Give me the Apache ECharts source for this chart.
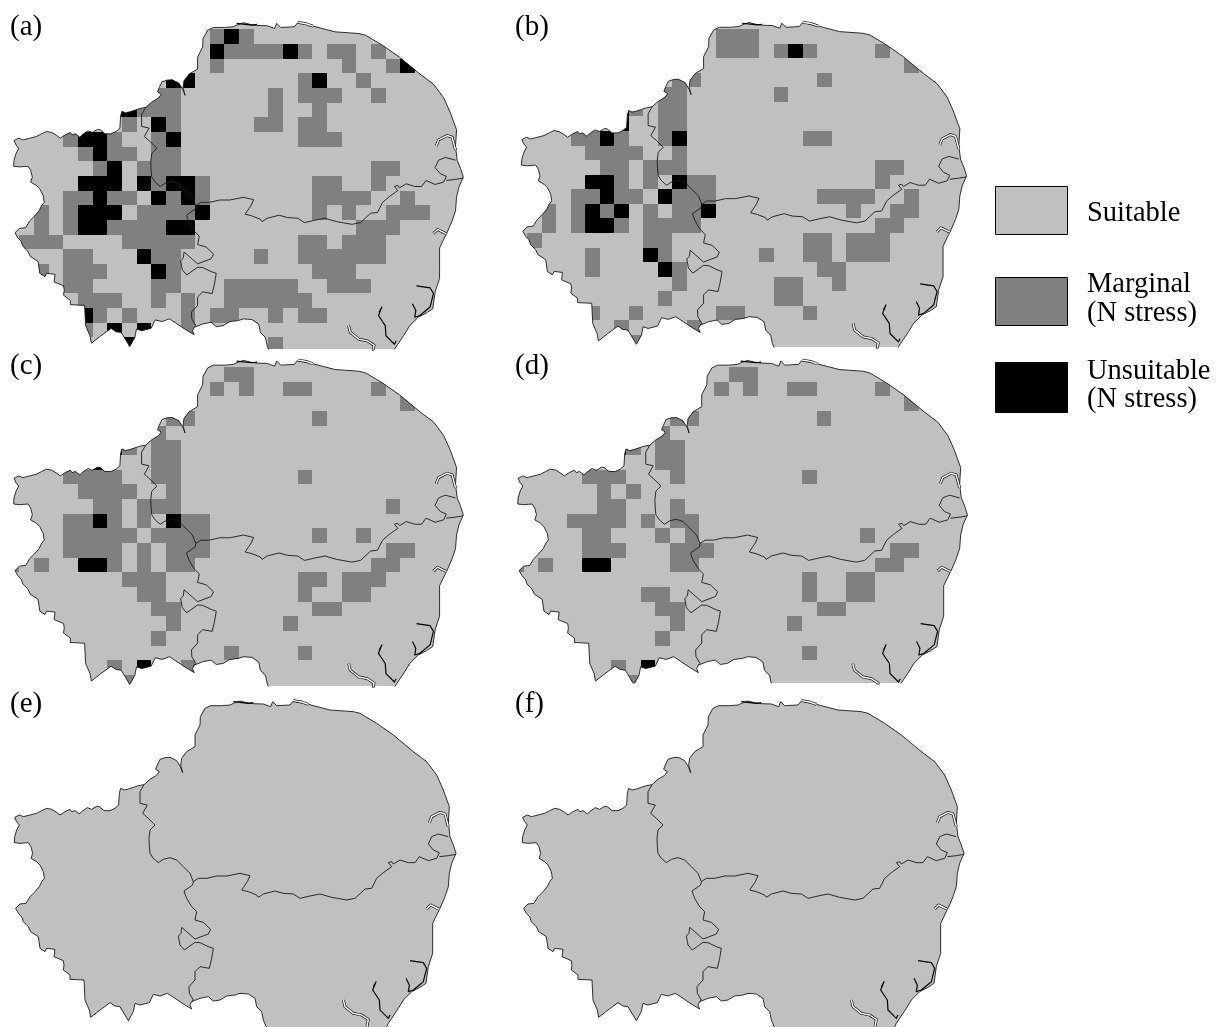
<!DOCTYPE html>
<html><head><meta charset="utf-8">
<style>html,body{margin:0;padding:0;background:#fff}#c{width:1216px;height:1027px}</style>
<script src="https://cdn.jsdelivr.net/npm/echarts@6/dist/echarts.min.js"></script>
</head><body><div id="c"></div>
<script>
// ---- legend and panel text
const panelLabels = ['(a)','(b)','(c)','(d)','(e)','(f)'];
const legendLabels = [['Suitable'],['Marginal','(N stress)'],['Unsuitable','(N stress)']];

// ---- grid cells: [row, marginal columns, unsuitable columns]
const cellsA = [
[2,[13,15],[14]],[3,[14,15,16,17,19,21,22,24],[13,18]],[4,[13,22,25],[26]],[5,[19,23],[10,11,20]],
[6,[9,10,17,19,20,21,24],[]],[7,[8,9,10,17,20],[6,7]],[8,[7,10,16,17,19,20],[9]],[9,[3,6,9,19,20,21],[4,5,10]],
[10,[4,6,7,9,10],[5]],[11,[5,8,9,10,24,25],[6]],[12,[9,12,20,21,24],[4,5,6,8,10,11]],
[13,[3,4,6,7,10,12,20,21,22,23,26],[5,9,11]],[14,[1,3,8,9,10,11,20,22,25,26,27],[4,5,6,12]],
[15,[1,3,6,7,8,9,23,24,25],[4,5,10,11]],[16,[0,1,2,7,8,9,10,11,19,20,22,23,24],[]],
[17,[3,4,9,10,16,19,20,21,22,23,24],[8]],[18,[1,3,4,5,10,20,21,22],[9]],[19,[3,4,9,10,14,15,16,17,18,21,22,23],[]],
[20,[4,5,6,9,11,14,15,16,17,18,19],[]],[21,[5,7,11,13,14,17,19,20],[4]],[22,[4,11],[6,8]],[23,[17],[7]]];
const cellsB = [
[2,[13,14,15],[]],[3,[13,14,15,17,19,24],[18]],[4,[26],[]],[5,[10,11,20],[]],[6,[9,10,17],[]],[7,[7,9,10],[6]],
[8,[9,10],[6]],[9,[3,4,6,9,19,20],[5,10]],[10,[4,5,6,7,10],[]],[11,[5,6,8,9,10,24,25],[]],[12,[6,8,11,12,24],[4,5,10]],
[13,[3,4,6,7,10,11,12,20,21,22,23,26],[5,9]],[14,[1,3,5,8,10,11,22,25,26],[4,6,12]],[15,[1,3,6,8,9,10,11,24,25],[4,5]],
[16,[0,8,9,19,20,22,23,24],[]],[17,[4,9,16,19,20,22,23,24],[8]],[18,[4,10,20,21],[9]],[19,[10,17,18,21],[]],
[20,[9,17,18],[]],[21,[4,7,13,14,19],[]],[22,[6,11],[]],[23,[7],[]]];
const cellsC = [
[2,[14,15],[]],[3,[13,15,18,19,24],[]],[4,[26],[]],[5,[10,11,20],[]],[6,[9],[]],[7,[7,9,10],[6]],[8,[9,10],[5]],
[9,[3,4,5,6,9,10,19],[]],[10,[4,5,6,7,10],[]],[11,[5,6,8,9,10,25],[]],[12,[3,4,6,8,11,12],[5,10]],
[13,[3,4,5,6,7,9,10,11,12,20,23],[]],[14,[3,4,5,6,8,10,11,12,25,26],[]],[15,[-1,1,6,8,10,11,24,25],[4,5]],
[16,[7,8,9,19,20,22,23,24],[]],[17,[8,9,19,22,23],[]],[18,[9,10,20,21],[]],[19,[10,18],[]],[20,[9],[]],
[21,[14,19],[]],[22,[6,11],[8]],[23,[7],[]]];
const cellsD = [
[2,[14,15],[]],[3,[13,15,18,19,24],[]],[4,[26],[]],[5,[10,11,20],[]],[6,[9],[]],[7,[7,9,10],[6]],[8,[9,10],[]],
[9,[4,5,6,10,19],[]],[10,[5,7],[]],[11,[5,6,10],[]],[12,[3,4,5,6,8,10,11],[]],[13,[4,5,9,11,23],[]],
[14,[4,5,6,10,11,12,25,26],[]],[15,[-1,1,10,11,24,25],[4,5]],[16,[19,22,23],[]],[17,[8,9,19,22,23],[]],
[18,[9,10,20,21],[]],[19,[10,18],[]],[20,[9],[]],[21,[19],[]],[22,[6],[8]],[23,[7],[]]];
const cellsE = [];
const cellsF = [];

// ---- map outline in map units
const coastNorth = [[432,284],[450,268],[470,256],[478,245],[467,238],[472,225],[480,208],[495,203],[510,202],[530,212],[542,232],[548,248],[542,225],[545,205],[560,185],[585,170],[585,135],[600,105],[601,80],[615,55],[632,47],[665,47],[690,45],[700,40],[720,33],[740,38],[760,41],[790,42],[812,50],[818,35],[830,47],[870,45],[880,33],[925,43],[990,60],[1060,65],[1080,70],[1130,100],[1180,135],[1240,185],[1280,215],[1310,255],[1330,300],[1348,350],[1345,400],[1350,440],[1360,465],[1368,490]];
const coastEast = [[1368,490],[1355,520],[1348,550],[1345,590],[1335,620],[1320,655],[1310,675],[1298,700],[1298,790],[1285,830],[1278,880],[1260,892],[1235,905],[1210,930],[1195,955],[1175,985],[1165,1000],[1155,1022]];
const coastSouth = [[803,1022],[790,990],[785,965],[770,950],[765,925],[745,912],[720,910],[705,915],[680,918],[660,930],[640,933],[625,920],[600,925],[575,935]];
const coastWest = [[575,957],[550,942],[525,925],[502,910],[480,918],[460,913],[448,938],[420,945],[405,940],[400,965],[385,992],[360,950],[345,948],[330,938],[300,960],[272,982],[268,960],[255,930],[252,870],[210,868],[210,855],[190,840],[192,825],[190,812],[162,800],[165,778],[140,775],[135,785],[120,775],[115,740],[92,725],[85,710],[70,695],[65,680],[55,670],[47,655],[60,642],[78,640],[90,620],[105,605],[118,590],[125,575],[133,565],[130,545],[120,525],[110,515],[93,505],[98,490],[93,470],[85,458],[60,460],[43,458],[44,440],[50,420],[58,405],[50,395],[44,382],[58,375],[70,380],[90,375],[110,370],[125,362],[140,355],[155,358],[170,367],[180,375],[195,365],[210,358],[215,365],[225,362],[238,372],[245,365],[262,353],[275,358],[290,349],[298,350],[312,362],[330,362],[345,355],[356,345],[358,310],[362,295],[372,300],[385,297],[400,292],[415,287],[432,284]];
const coastCorner = [[575,935],[570,945],[575,957]];
const borderNorthWest = [[432,284],[420,305],[420,340],[442,345],[428,370],[445,385],[465,405],[450,420],[447,445],[448,470],[450,490],[460,505],[475,518],[490,508],[510,503],[530,510],[550,530],[570,550],[580,575]];
const borderNorthSouth = [[580,575],[595,565],[620,565],[650,558],[680,558],[720,550],[750,557],[742,575],[725,600],[745,605],[770,615],[775,622],[790,612],[825,603],[850,610],[880,612],[900,625],[930,618],[960,612],[995,622],[1040,630],[1065,625],[1095,597],[1115,595],[1130,565],[1150,548],[1175,530],[1165,518],[1175,515],[1180,522],[1200,510],[1225,518],[1245,518],[1258,500],[1285,512],[1310,505],[1318,488],[1300,480],[1285,462],[1295,440],[1315,432],[1345,440]];
const borderTip = [[1318,500],[1345,497],[1368,493]];
const borderWestSouth = [[580,575],[578,585],[552,603],[560,625],[575,650],[590,665],[585,690],[610,697],[632,718],[625,732],[585,747],[560,725],[545,712],[543,730],[535,738],[540,765],[553,780],[585,757],[600,758],[625,770],[640,775],[635,805],[628,835],[600,830],[585,845],[585,870],[567,890],[568,910],[580,930],[575,935]];
const creeks = [
 [[1120,890],[1128,875],[1118,900],[1138,930],[1140,960],[1165,985],[1170,975]],
 [[1218,865],[1228,885],[1225,905],[1240,900],[1270,875],[1280,835],[1270,818],[1250,815],[1230,812]],
 [[700,35],[745,40],[760,38]]];
const estuaries = [
 [[1288,398],[1295,380],[1320,367],[1335,372],[1345,410]],
 [[1280,657],[1292,645],[1318,658]],
 [[1030,930],[1035,950],[1060,970],[1085,975],[1105,988],[1100,1015]],
 [[880,32],[905,36],[925,43]]];

// ---- panel layout
const panels = [
 {cells:cellsA,ax:19.38, bx:14.65,ay:0,     by:14.66,cut:349, lx:10, ly:30},
 {cells:cellsB,ax:527.17,bx:14.5, ay:0,     by:14.56,cut:347, lx:515,ly:30},
 {cells:cellsC,ax:19.38, bx:14.65,ay:337.67,by:14.667,cut:686,lx:10, ly:369},
 {cells:cellsD,ax:523.5, bx:14.65,ay:337.67,by:14.667,cut:683,lx:515,ly:369},
 {cells:cellsE,ax:19.94, bx:14.39,ay:678.58,by:14.47,cut:1027,lx:10, ly:707},
 {cells:cellsF,ax:527.94,bx:14.39,ay:678.58,by:14.47,cut:1027,lx:515,ly:707}];
const ZX0=59.82, ZXS=43.17, ZY0=-34.26, ZYS=43.41;
const X_MIN=30, X_MAX=1400, Y_MIN=0;
const colorLevels = {suit:'#c0c0c0', marg:'#808080', unsu:'#000000'};

const landRing = coastNorth.concat(coastEast, [[1155,1022],[803,1022]], coastSouth, coastCorner, coastWest);

const grids=[], xAxes=[], yAxes=[], series=[];
panels.forEach((p,pi)=>{
  const pxX = z => p.ax + p.bx*(z-ZX0)/ZXS;
  const pxY = z => p.ay + p.by*(z-ZY0)/ZYS;
  const yMax = ((p.cut-p.ay)/p.by)*ZYS+ZY0;
  grids.push({left:pxX(X_MIN),top:pxY(Y_MIN),width:pxX(X_MAX)-pxX(X_MIN),height:p.cut-pxY(Y_MIN),show:false});
  xAxes.push({type:'value',gridIndex:pi,min:X_MIN,max:X_MAX,show:false});
  yAxes.push({type:'value',gridIndex:pi,min:Y_MIN,max:yMax,inverse:true,show:false});
  const base={xAxisIndex:pi,yAxisIndex:pi,silent:true,animation:false};
  const ringPts = api => landRing.map(q=>api.coord(q));
  series.push(Object.assign({},base,{type:'custom',clip:true,z:1,data:[[0,0]],
    encode:{x:0,y:1},
    renderItem:(params,api)=>({type:'polygon',shape:{points:ringPts(api)},style:{fill:colorLevels.suit}})}));
  const cellData=[];
  p.cells.forEach(([r,m,u])=>{ m.forEach(c=>cellData.push([c,r,1])); u.forEach(c=>cellData.push([c,r,2])); });
  if(cellData.length){
    let cached=null;
    series.push(Object.assign({},base,{type:'custom',clip:true,z:2,data:cellData,encode:{x:0,y:1},
      renderItem:(params,api)=>{
        const c=api.value(0), r=api.value(1), lv=api.value(2);
        const a=api.coord([ZX0+ZXS*c, ZY0+ZYS*r]), b=api.coord([ZX0+ZXS*(c+1), ZY0+ZYS*(r+1)]);
        const x0=Math.round(a[0]),y0=Math.round(a[1]),x1=Math.round(b[0]),y1=Math.round(b[1]);
        if(!cached) cached=ringPts(api);
        return {type:'rect',shape:{x:x0,y:y0,width:x1-x0,height:y1-y0},
          style:{fill:lv===2?colorLevels.unsu:colorLevels.marg},
          clipPath:{type:'polygon',shape:{points:cached}}};
      }}));
  }
  const line=(d,w,col,z)=>series.push(Object.assign({},base,{type:'line',data:d,symbol:'none',clip:true,z:z,
    lineStyle:{width:w,color:col,join:'round'},emphasis:{disabled:true}}));
  [coastNorth,coastEast,coastSouth,coastCorner,coastWest,borderNorthWest,borderNorthSouth,borderTip,borderWestSouth]
    .forEach(d=>line(d,0.9,'#1a1a1a',3));
  creeks.forEach(d=>line(d,1.2,'#000',3));
  estuaries.forEach(d=>{line(d,2.8,'#111',3);line(d,1.4,'#fff',4);});
});

const serif='"Liberation Serif","Times New Roman",serif';
const graphics=[];
panels.forEach((p,i)=>graphics.push({type:'text',left:p.lx,top:p.ly-17,silent:true,
  style:{text:panelLabels[i],font:'29px '+serif,fill:'#000'}}));
const swatches=[{y:186,h:48,c:colorLevels.suit},{y:277,h:48,c:colorLevels.marg},{y:362,h:50,c:colorLevels.unsu}];
swatches.forEach(s=>graphics.push({type:'rect',shape:{x:995.5,y:s.y+.5,width:72,height:s.h},style:{fill:s.c,stroke:'#000',lineWidth:1},silent:true}));
const legendY=[[199],[270,299],[357,385]];
legendLabels.forEach((ls,i)=>ls.forEach((t,j)=>graphics.push({type:'text',left:1087,top:legendY[i][j],silent:true,
  style:{text:t,font:'28.5px '+serif,fill:'#000'}})));

const chart=echarts.init(document.getElementById('c'),null,{renderer:'canvas'});
chart.setOption({animation:false,backgroundColor:'#fff',grid:grids,xAxis:xAxes,yAxis:yAxes,series:series,graphic:graphics,tooltip:{show:false}});
</script></body></html>
